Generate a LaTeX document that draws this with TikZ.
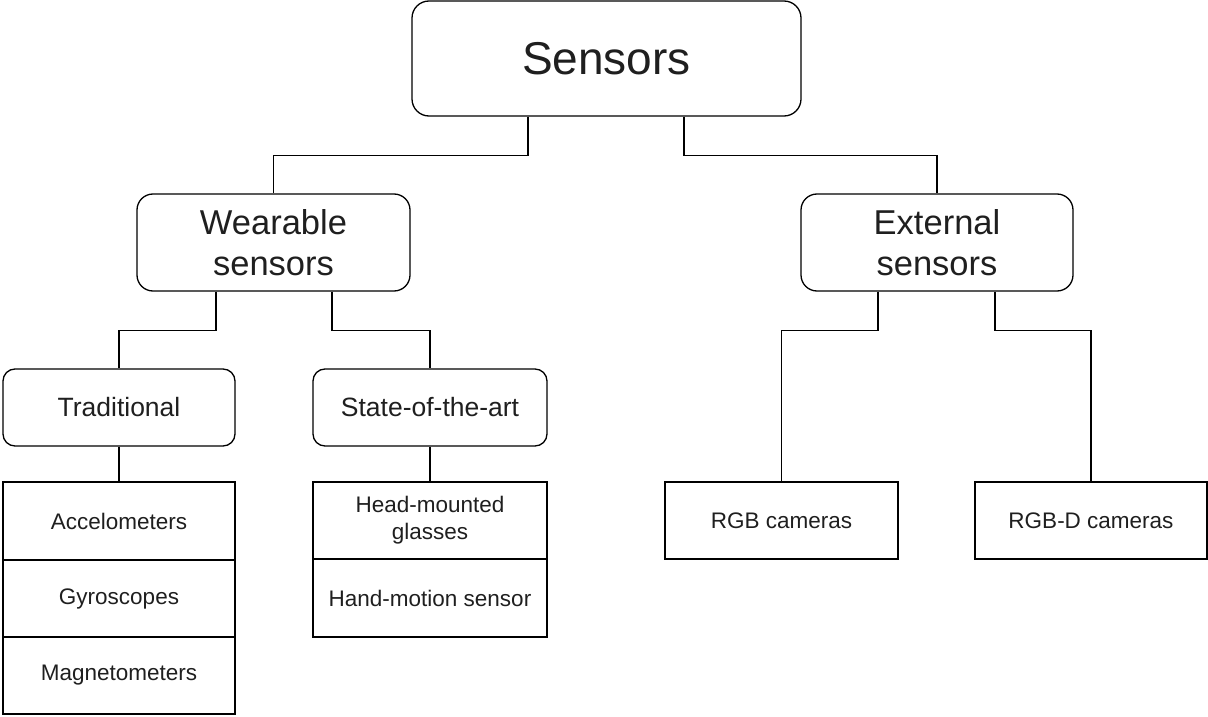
\documentclass[tikz,border=0pt]{standalone}
\usepackage{fontspec}
\setmainfont{Liberation Sans}
\begin{document}
\begin{tikzpicture}[x=1pt,y=-1pt,
  line width=1.3pt,
  txt/.style={text=black!88, align=center, inner sep=0pt},
  rbox/.style={txt, draw, rectangle, rounded corners=#1},
  cell/.style={txt, draw, rectangle, minimum width=232pt, font=\fontsize{22.5}{27}\selectfont},
  link/.style={draw, line width=1.3pt}
]
\useasboundingbox (0,0) rectangle (1208,717);

% top level
\node[rbox=17pt, minimum width=389pt, minimum height=115pt,
      font=\fontsize{46}{55}\selectfont] (S) at (606.5,58.5) {Sensors};

% second level
\node[rbox=16pt, minimum width=273pt, minimum height=97pt,
      font=\fontsize{34.5}{41.5}\selectfont] (W) at (273.5,242.5) {Wearable\\sensors};
\node[rbox=16pt, minimum width=272pt, minimum height=97pt,
      font=\fontsize{34.5}{41.5}\selectfont] (E) at (937,242.5) {External\\sensors};

% third level
\node[rbox=12pt, minimum width=232pt, minimum height=77pt,
      font=\fontsize{26.5}{32}\selectfont] (T) at (119,407.5) {Traditional};
\node[rbox=12pt, minimum width=234pt, minimum height=77pt,
      font=\fontsize{26.5}{32}\selectfont] (A) at (430,407.5) {State-of-the-art};

% traditional sensors
\node[cell, minimum height=78pt] (acc) at (119,521) {Accelometers};
\node[cell, minimum height=77pt] (gyr) at (119,598.5) {Gyroscopes};
\node[cell, minimum height=77pt] (mag) at (119,675.5) {Magnetometers};

% state-of-the-art sensors
\node[cell, minimum width=234pt, minimum height=77pt] (hmg) at (430,520.5) {Head-mounted\\glasses};
\node[cell, minimum width=234pt, minimum height=78pt] (hms) at (430,598) {Hand-motion sensor};

% external sensors
\node[cell, minimum width=233pt, minimum height=77pt] (rgb) at (781.5,520.5) {RGB cameras};
\node[cell, minimum width=232pt, minimum height=77pt] (rgbd) at (1091,520.5) {RGB-D cameras};

% connectors
\draw[link] ([xshift=-78.5pt]S.south) -- ++(0,38.5) -| (W.north);
\draw[link] ([xshift=77.5pt]S.south) -- ++(0,38.5) -| (E.north);
\draw[link] ([xshift=-57.5pt]W.south) -- ++(0,39) -| (T.north);
\draw[link] ([xshift=58.5pt]W.south) -- ++(0,39) -| (A.north);
\draw[link] ([xshift=-59pt]E.south) -- ++(0,39) -| (rgb.north);
\draw[link] ([xshift=58pt]E.south) -- ++(0,39) -| (rgbd.north);
\draw[link] (T.south) -- (acc.north);
\draw[link] (A.south) -- (hmg.north);
\end{tikzpicture}
\end{document}
